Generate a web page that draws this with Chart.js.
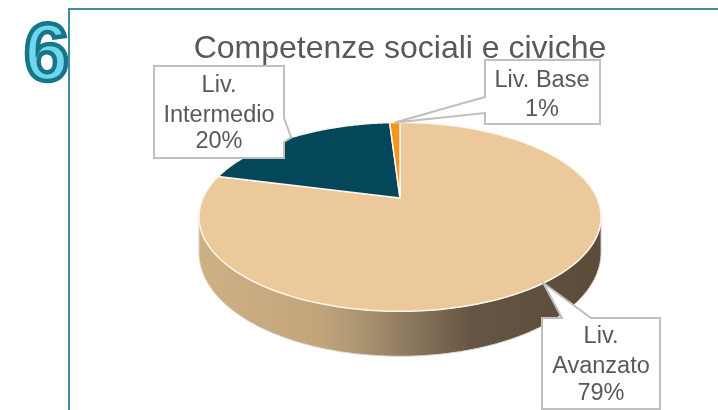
<!DOCTYPE html>
<html>
<head>
<meta charset="utf-8">
<script src="https://cdn.jsdelivr.net/npm/chart.js@4"></script>
<style>
    html, body { margin:0; padding:0; background:#fff; overflow:hidden; }
    #wrap { position:relative; width:718px; height:410px; }
    #panel { position:absolute; left:68px; top:8px; width:660px; height:420px; border:2px solid #3f8e9e; box-sizing:border-box; }
    #num { position:absolute; left:24px; top:6px; font:bold 81px "Liberation Sans"; line-height:92px; color:#6fd6ec; -webkit-text-stroke:4.5px #17758a; }
    canvas { position:absolute; left:0; top:0; }
</style>
</head>
<body>
<div id="wrap">
    <div id="num">6</div>
    <div id="panel"></div>
    <canvas id="pieChart" width="718" height="410"></canvas>
</div>
<script>
const chartTitle = "Competenze sociali e civiche";
const levels = ["Liv. Avanzato", "Liv. Intermedio", "Liv. Base"];
const percents = [79, 20, 1];
const sliceColors = ["#ebc99b", "#04475a", "#f7941e"];

// tilted disc: projective map, near side is bigger
const TILT = 0.2;
const FLAT = 0.46;

function rimPoint(el, angle, radius) {
    const w = 1 - TILT * Math.sin(angle);
    return {
        x: el.x + radius * Math.cos(angle) / w,
        y: el.y + radius * FLAT * Math.sin(angle) / w
    };
}

Chart.ArcElement.prototype.draw = function (ctx) {
    const p = this.getProps(["x", "y", "startAngle", "endAngle", "outerRadius"]);
    ctx.save();
    ctx.beginPath();
    ctx.moveTo(p.x, p.y);
    for (let i = 0; i <= 120; i++) {
        const pt = rimPoint(p, p.startAngle + (p.endAngle - p.startAngle) * i / 120, p.outerRadius);
        ctx.lineTo(pt.x, pt.y);
    }
    ctx.closePath();
    ctx.fillStyle = this.options.backgroundColor;
    ctx.fill();
    ctx.lineWidth = this.options.borderWidth;
    ctx.strokeStyle = this.options.borderColor;
    ctx.lineJoin = "round";
    ctx.stroke();
    ctx.restore();
};

// side wall of the pie
const wallPlugin = {
    id: "wall",
    beforeDatasetsDraw(chart) {
        const el = chart.getDatasetMeta(0).data[0];
        const ctx = chart.ctx;
        const a0 = Math.asin(TILT);
        const a1 = Math.PI - a0;
        const top = [], bottom = [];
        for (let i = 0; i <= 100; i++) {
            const a = a0 + (a1 - a0) * i / 100;
            const pt = rimPoint(el, a, el.outerRadius);
            top.push(pt);
            bottom.push({ x: pt.x, y: pt.y + 33 + 12 * Math.sin(a) });
        }
        const grad = ctx.createLinearGradient(198, 0, 601, 0);
        grad.addColorStop(0, "#cdb084");
        grad.addColorStop(0.3, "#c3a57c");
        grad.addColorStop(0.42, "#a89170");
        grad.addColorStop(0.55, "#85725a");
        grad.addColorStop(0.68, "#655543");
        grad.addColorStop(1, "#5b4c3a");
        ctx.save();
        ctx.beginPath();
        top.forEach((pt, i) => i ? ctx.lineTo(pt.x, pt.y) : ctx.moveTo(pt.x, pt.y));
        bottom.reverse().forEach(pt => ctx.lineTo(pt.x, pt.y));
        ctx.closePath();
        ctx.fillStyle = grad;
        ctx.fill();
        ctx.strokeStyle = "#ddd8d0";
        ctx.lineWidth = 1;
        ctx.stroke();
        ctx.restore();
    }
};

// callout boxes, pointer tip sits on the rim at the middle of each slice
const callouts = [
    { box: [542, 318, 118, 91], side: "top", gap: [562, 591], textX: 601, lines: [343, 373, 400], wrap: true },
    { box: [154, 66, 130, 92], side: "right", gap: [118, 142], textX: 219, lines: [92, 122, 148], wrap: true },
    { box: [485, 60, 115, 64], side: "left", gap: [97, 113], textX: 542, lines: [87, 116], wrap: false }
];

const calloutPlugin = {
    id: "callouts",
    afterDatasetsDraw(chart) {
        const ctx = chart.ctx;
        chart.getDatasetMeta(0).data.forEach((el, i) => {
            const c = callouts[i];
            const [x, y, w, h] = c.box;
            const tip = rimPoint(el, (el.startAngle + el.endAngle) / 2, el.outerRadius);
            ctx.save();
            ctx.beginPath();
            ctx.moveTo(x, y);
            if (c.side === "top") {
                ctx.lineTo(c.gap[0], y);
                ctx.lineTo(tip.x, tip.y);
                ctx.lineTo(c.gap[1], y);
            }
            ctx.lineTo(x + w, y);
            if (c.side === "right") {
                ctx.lineTo(x + w, c.gap[0]);
                ctx.lineTo(tip.x, tip.y);
                ctx.lineTo(x + w, c.gap[1]);
            }
            ctx.lineTo(x + w, y + h);
            ctx.lineTo(x, y + h);
            if (c.side === "left") {
                ctx.lineTo(x, c.gap[1]);
                ctx.lineTo(tip.x, tip.y);
                ctx.lineTo(x, c.gap[0]);
            }
            ctx.closePath();
            ctx.fillStyle = "#ffffff";
            ctx.fill();
            ctx.strokeStyle = "#bfbfbf";
            ctx.lineWidth = 2;
            ctx.stroke();

            const name = levels[i];
            const rows = c.wrap ? name.split(" ") : [name];
            rows.push(percents[i] + "%");
            ctx.fillStyle = "#595959";
            ctx.font = '23.5px "Liberation Sans"';
            ctx.textAlign = "center";
            rows.forEach((row, j) => ctx.fillText(row, c.textX, c.lines[j]));
            ctx.restore();
        });
    }
};

new Chart(document.getElementById("pieChart"), {
    type: "pie",
    data: {
        labels: levels,
        datasets: [{
            data: percents,
            backgroundColor: sliceColors,
            borderColor: "#fbf6ec",
            borderWidth: 1.5
        }]
    },
    options: {
        responsive: false,
        animation: false,
        radius: 197,
        layout: { padding: { left: 82, right: 0, top: 0, bottom: 84 } },
        plugins: {
            legend: { display: false },
            tooltip: { enabled: false },
            title: {
                display: true,
                text: chartTitle,
                color: "#595959",
                font: { family: "Liberation Sans", size: 32, weight: "normal" },
                padding: { top: 30, bottom: 1.6 }
            }
        }
    },
    plugins: [wallPlugin, calloutPlugin]
});
</script>
</body>
</html>
